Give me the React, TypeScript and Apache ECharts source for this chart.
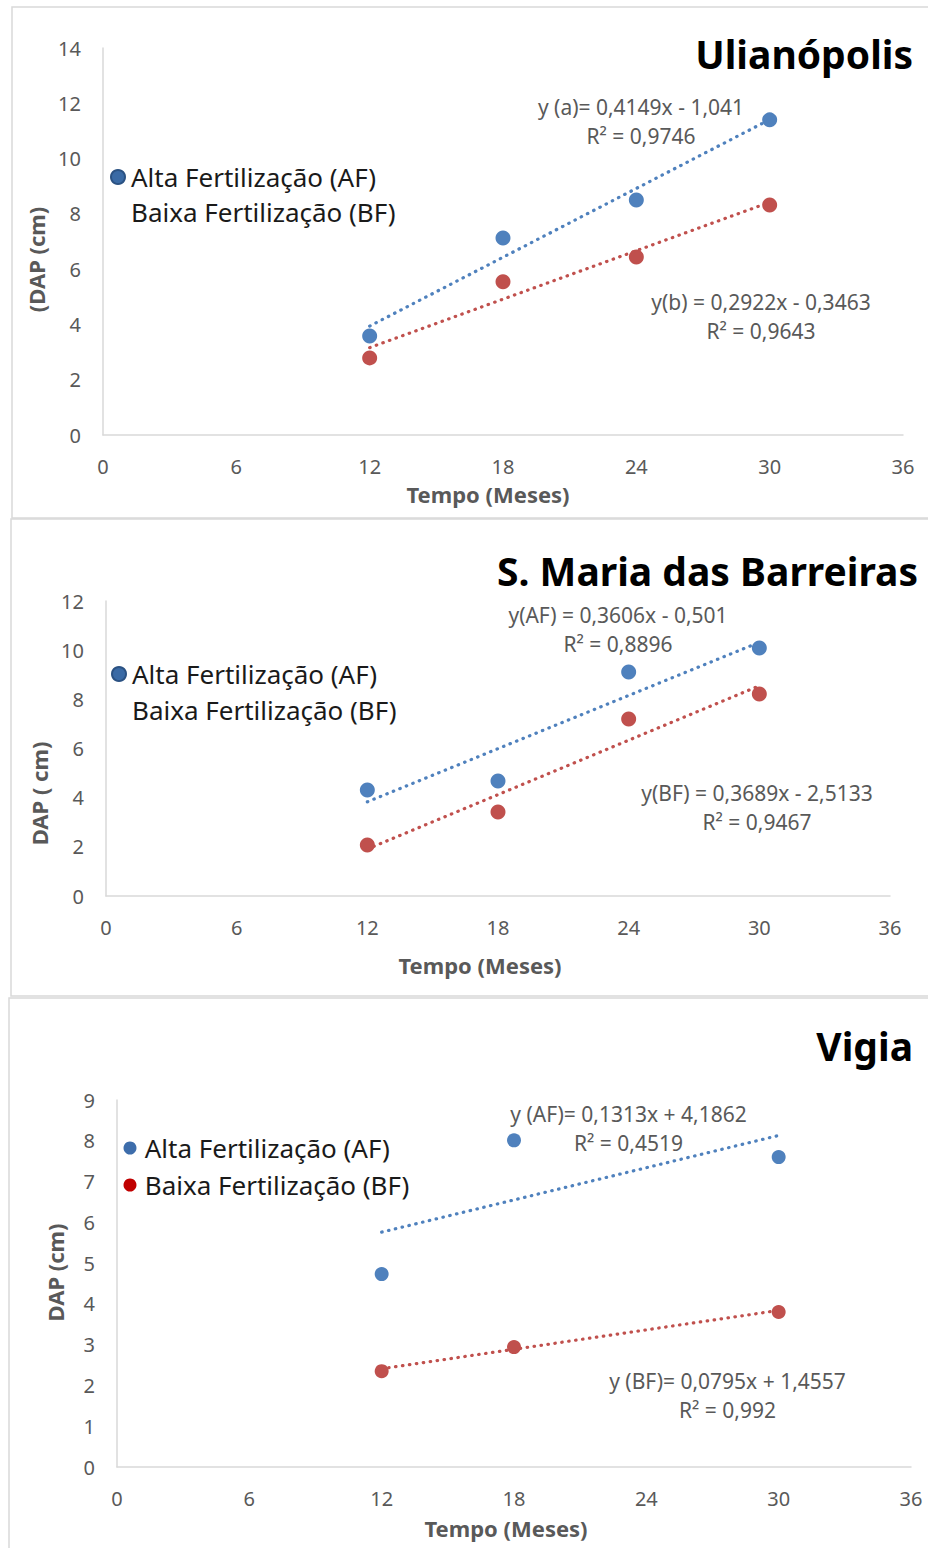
import React, { useEffect, useRef } from "react";
import * as echarts from "echarts";

// ---------- data ----------
const xTicks = [0, 6, 12, 18, 24, 30, 36];
const monthsFour = [12, 18, 24, 30];
const monthsThree = [12, 18, 30];
const trendX = [12, 30];

// Ulianópolis
const ulAF = [3.58, 7.13, 8.5, 11.4];
const ulBF = [2.79, 5.54, 6.44, 8.32];
const ulAFTrend = [3.94, 11.41];
const ulBFTrend = [3.16, 8.42];

// S. Maria das Barreiras
const smAF = [4.31, 4.68, 9.11, 10.09];
const smBF = [2.07, 3.42, 7.2, 8.22];
const smAFTrend = [3.83, 10.32];
const smBFTrend = [1.91, 8.55];

// Vigia
const viAF = [4.73, 8.01, 7.6];
const viBF = [2.35, 2.94, 3.8];
const viAFTrend = [5.76, 8.13];
const viBFTrend = [2.41, 3.84];

const titles = ["Ulianópolis", "S. Maria das Barreiras", "Vigia"];
const yNames = ["(DAP (cm)", "DAP ( cm)", "DAP (cm)"];
const xName = "Tempo (Meses)";
const nameAF = "Alta Fertilização (AF)";
const nameBF = "Baixa Fertilização (BF)";
const equations = [
  ["y (a)= 0,4149x - 1,041\nR² = 0,9746", "y(b) = 0,2922x - 0,3463\nR² = 0,9643"],
  ["y(AF) = 0,3606x - 0,501\nR² = 0,8896", "y(BF) = 0,3689x - 2,5133\nR² = 0,9467"],
  ["y (AF)= 0,1313x + 4,1862\nR² = 0,4519", "y (BF)= 0,0795x + 1,4557\nR² = 0,992"],
];

// ---------- styles / layout ----------
const FONT = "'Noto Sans', sans-serif";
const BLUE = "#4f81bd";
const RED = "#c0504d";
const GRAY = "#595959";
const AXIS = "#d9d9d9";

const panels = [
  {
    x: monthsFour, af: ulAF, bf: ulBF, afT: ulAFTrend, bfT: ulBFTrend,
    grid: { left: 103, top: 48, width: 800, height: 387 },
    yMax: 14, yInt: 2,
    xNameGap: 48, xNamePad: [0, 30, 0, 0],
    yNameGap: 53, yNamePad: [0, 36, 0, 0],
    title: { right: 15, top: 34 },
    legend: { left: 110, top: 164, itemWidth: 16, itemHeight: 14, itemGap: 9 },
    legendColors: [{ color: "#3a6aa5", borderColor: "#2b5283", borderWidth: 2 }, { opacity: 0 }],
    border: { x: 12, y: 7, width: 930, height: 511 },
    eq: [[641, 121.5], [761, 316]],
    symbolSize: 15,
  },
  {
    x: monthsFour, af: smAF, bf: smBF, afT: smAFTrend, bfT: smBFTrend,
    grid: { left: 106, top: 601, width: 784, height: 295 },
    yMax: 12, yInt: 2,
    xNameGap: 58, xNamePad: [0, 36, 0, 0],
    yNameGap: 49, yNamePad: [0, 90, 0, 0],
    title: { right: 10, top: 550.5 },
    legend: { left: 111, top: 661, itemWidth: 16, itemHeight: 14, itemGap: 10 },
    legendColors: [{ color: "#3a6aa5", borderColor: "#2b5283", borderWidth: 2 }, { opacity: 0 }],
    border: { x: 11, y: 519, width: 930, height: 477 },
    eq: [[618, 629.5], [757, 807.5]],
    symbolSize: 15,
  },
  {
    x: monthsThree, af: viAF, bf: viBF, afT: viAFTrend, bfT: viBFTrend,
    grid: { left: 117, top: 1100, width: 794, height: 367 },
    yMax: 9, yInt: 1,
    xNameGap: 50, xNamePad: [0, 16, 0, 0],
    yNameGap: 51, yNamePad: [0, 0, 0, 22],
    title: { right: 15, top: 1025.5 },
    legend: { left: 123.5, top: 1135, itemWidth: 19.5, itemHeight: 13, itemGap: 11 },
    legendColors: [{ color: "#3d6dab" }, { color: "#c00000" }],
    border: { x: 9, y: 998, width: 930, height: 560 },
    eq: [[628.5, 1128], [727.5, 1395.5]],
    symbolSize: 14,
  },
];

function zip(xs: number[], ys: number[]) {
  return xs.map((x, i) => [x, ys[i]]);
}

function buildOption() {
  const grid: any[] = [];
  const xAxis: any[] = [];
  const yAxis: any[] = [];
  const series: any[] = [];
  const legend: any[] = [];
  const title: any[] = [];
  const graphic: any[] = [];

  panels.forEach((p, i) => {
    grid.push({ ...p.grid, containLabel: false });
    xAxis.push({
      type: "value",
      gridIndex: i,
      min: xTicks[0],
      max: xTicks[xTicks.length - 1],
      interval: xTicks[1] - xTicks[0],
      name: xName,
      nameLocation: "middle",
      nameGap: p.xNameGap,
      nameTextStyle: { fontSize: 22, fontWeight: "bold", color: GRAY, fontFamily: FONT, padding: p.xNamePad },
      axisLine: { show: true, lineStyle: { color: AXIS, width: 1.5 } },
      axisTick: { show: false },
      splitLine: { show: false },
      axisLabel: { fontSize: 20, color: GRAY, fontFamily: FONT, margin: 21 },
    });
    yAxis.push({
      type: "value",
      gridIndex: i,
      min: 0,
      max: p.yMax,
      interval: p.yInt,
      name: yNames[i],
      nameLocation: "middle",
      nameRotate: 90,
      nameGap: p.yNameGap,
      nameTextStyle: { fontSize: 22, fontWeight: "bold", color: GRAY, fontFamily: FONT, padding: p.yNamePad },
      axisLine: { show: true, lineStyle: { color: AXIS, width: 1.5 } },
      axisTick: { show: false },
      splitLine: { show: false },
      axisLabel: { fontSize: 20, color: GRAY, fontFamily: FONT, margin: 22 },
    });

    const dotted = (color: string) => ({ color, width: 3.2, type: [0.5, 6.5], cap: "round" });

    series.push(
      {
        name: nameAF, type: "scatter", xAxisIndex: i, yAxisIndex: i,
        data: zip(p.x, p.af), symbolSize: p.symbolSize, itemStyle: { color: BLUE, opacity: 1 }, z: 2,
      },
      {
        name: nameBF, type: "scatter", xAxisIndex: i, yAxisIndex: i,
        data: zip(p.x, p.bf), symbolSize: p.symbolSize, itemStyle: { color: RED, opacity: 1 }, z: 2,
      },
      {
        name: "Linear AF " + i, type: "line", xAxisIndex: i, yAxisIndex: i,
        data: zip(trendX, p.afT), symbol: "none", lineStyle: dotted(BLUE), z: 3, silent: true,
      },
      {
        name: "Linear BF " + i, type: "line", xAxisIndex: i, yAxisIndex: i,
        data: zip(trendX, p.bfT), symbol: "none", lineStyle: dotted(RED), z: 3, silent: true,
      }
    );

    legend.push({
      orient: "vertical",
      left: p.legend.left,
      top: p.legend.top,
      padding: 0,
      itemWidth: p.legend.itemWidth,
      itemHeight: p.legend.itemHeight,
      itemGap: p.legend.itemGap,
      symbolKeepAspect: true,
      selectedMode: false,
      textStyle: { fontSize: 26, color: "#1a1a1a", fontFamily: FONT },
      data: [
        { name: nameAF, icon: "circle", itemStyle: p.legendColors[0] },
        { name: nameBF, icon: "circle", itemStyle: p.legendColors[1] },
      ],
    });

    title.push({
      text: titles[i],
      right: p.title.right,
      top: p.title.top,
      padding: 0,
      textStyle: { fontSize: 39, fontWeight: "bold", color: "#000", fontFamily: FONT },
    });

    graphic.push({
      type: "rect",
      shape: { ...p.border },
      style: { fill: "none", stroke: AXIS, lineWidth: 1.5 },
      silent: true,
      z: -1,
    });

    p.eq.forEach((pos, k) => {
      graphic.push({
        type: "text",
        x: pos[0],
        y: pos[1],
        style: {
          text: equations[i][k],
          fill: GRAY,
          fontSize: 21,
          fontFamily: FONT,
          textAlign: "center",
          textVerticalAlign: "middle",
          align: "center",
          verticalAlign: "middle",
          lineHeight: 29,
        },
        silent: true,
      });
    });
  });

  return {
    animation: false,
    backgroundColor: "#ffffff",
    grid,
    xAxis,
    yAxis,
    series,
    legend,
    title,
    graphic,
  };
}

export default function App() {
  const ref = useRef<HTMLDivElement>(null);
  useEffect(() => {
    document.body.style.margin = "0";
    const chart = echarts.init(ref.current as HTMLDivElement, null, { renderer: "svg" });
    chart.setOption(buildOption() as any);
    return () => chart.dispose();
  }, []);
  return <div ref={ref} style={{ width: 928, height: 1548 }} />;
}
